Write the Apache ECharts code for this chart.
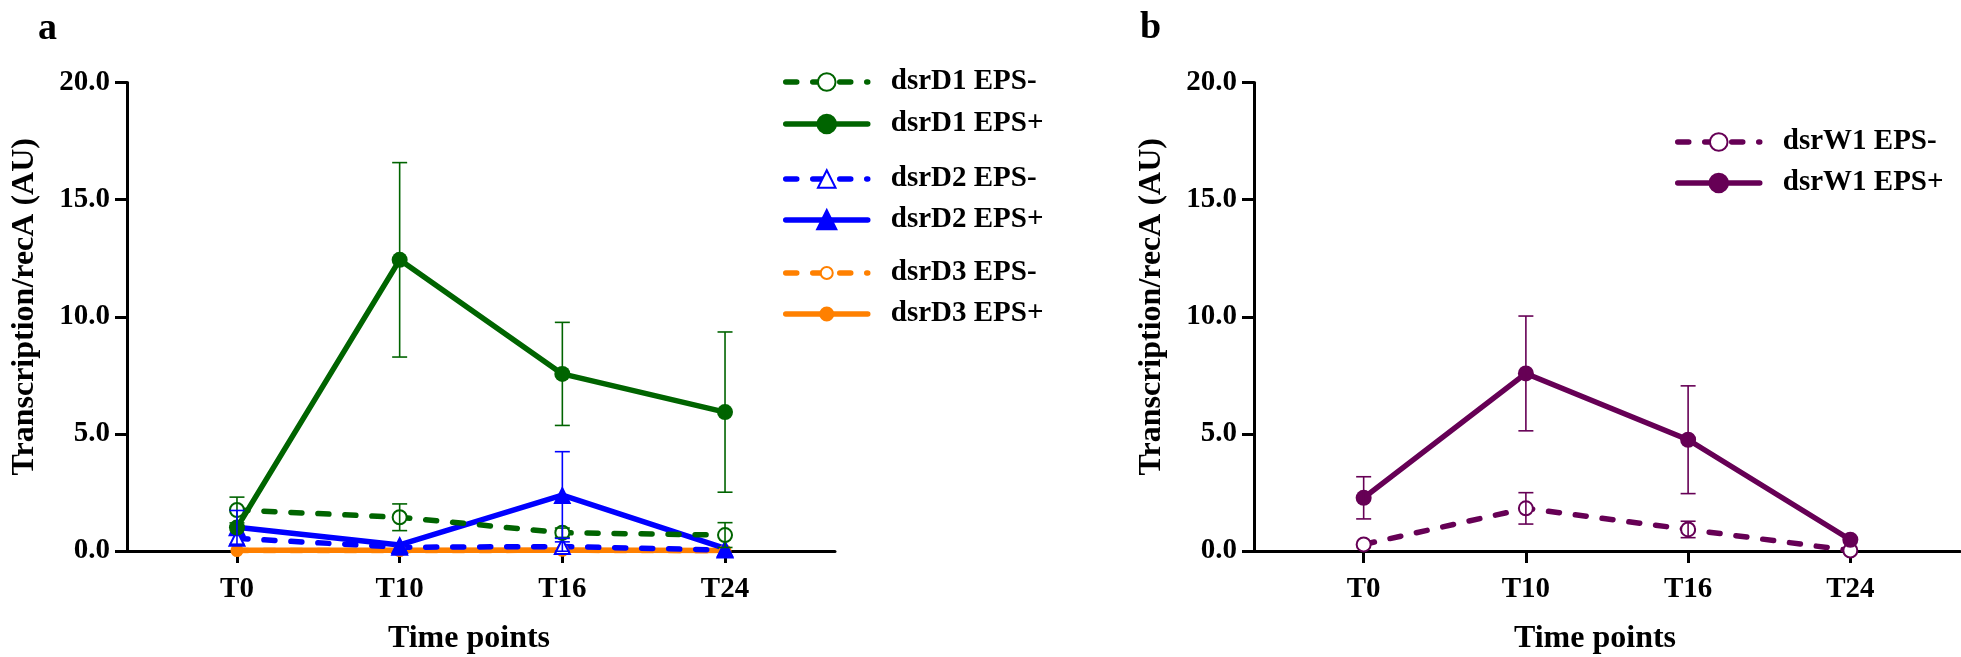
<!DOCTYPE html>
<html><head><meta charset="utf-8">
<script src="https://cdn.jsdelivr.net/npm/echarts@6/dist/echarts.min.js"></script>
<style>html,body{margin:0;padding:0;background:#fff}#c{width:1961px;height:657px}</style>
</head><body><div id="c"></div>
<script>
// ---- data ----
const categories = ['T0', 'T10', 'T16', 'T24'];
const yTicks = [0, 5, 10, 15, 20];

const dsrD1_minus     = [1.75, 1.44, 0.78, 0.68];
const dsrD1_minus_err = [0.55, 0.57, 0.20, 0.53];
const dsrD1_plus      = [1.00, 12.43, 7.56, 5.93];
const dsrD1_plus_err  = [0, 4.15, 2.20, 3.42];
const dsrD2_minus     = [0.54, 0.16, 0.19, 0.04];
const dsrD2_minus_err = [0, 0, 0.20, 0];
const dsrD2_plus      = [1.01, 0.26, 2.39, 0.11];
const dsrD2_plus_err  = [0.72, 0, 1.85, 0];
const dsrD3_minus     = [0.02, 0.02, 0.03, 0.01];
const dsrD3_plus      = [0.03, 0.03, 0.04, 0.02];
const dsrW1_minus     = [0.28, 1.82, 0.92, 0.02];
const dsrW1_minus_err = [0, 0.67, 0.35, 0];
const dsrW1_plus      = [2.27, 7.58, 4.75, 0.48];
const dsrW1_plus_err  = [0.90, 2.45, 2.30, 0];

const GREEN = '#006400', BLUE = '#0000FF', ORANGE = '#FF8000', PURPLE = '#660055';
const FONT = '"Liberation Serif", "Times New Roman", "DejaVu Serif", serif';

function lineSeries(name, vals, color, dashed, symbol, size, gi) {
  const empty = symbol.indexOf('empty') === 0;
  return {
    name, type: 'line', xAxisIndex: gi, yAxisIndex: gi,
    data: vals.map((v, i) => [i, v]),
    symbol, symbolSize: size, showAllSymbol: true, z: 3,
    lineStyle: { color, width: 5.5, type: dashed ? [11, 16] : 'solid', cap: 'round' },
    itemStyle: { color, borderColor: color, borderWidth: empty ? 3.5 : 0 }
  };
}
function errSeries(vals, errs, color, gi) {
  const data = vals.map((v, i) => [i, v, errs[i]]).filter(d => d[2] > 0);
  return {
    type: 'custom', xAxisIndex: gi, yAxisIndex: gi, z: 4, silent: true,
    encode: { x: 0, y: 1 },
    renderItem(params, api) {
      const x = api.value(0), y = api.value(1), e = api.value(2);
      const hi = api.coord([x, y + e]), lo = api.coord([x, y - e]);
      const w = 7.5, st = { stroke: color, lineWidth: 1.6 };
      return { type: 'group', children: [
        { type: 'line', shape: { x1: hi[0], y1: hi[1], x2: lo[0], y2: lo[1] }, style: st },
        { type: 'line', shape: { x1: hi[0] - w, y1: hi[1], x2: hi[0] + w, y2: hi[1] }, style: st },
        { type: 'line', shape: { x1: lo[0] - w, y1: lo[1], x2: lo[0] + w, y2: lo[1] }, style: st }
      ] };
    },
    data
  };
}

const txt = (size) => ({ fontFamily: FONT, fontWeight: 'bold', fontSize: size, color: '#000' });

function xAxis(gi) {
  return {
    type: 'value', gridIndex: gi, min: -0.676, max: 3.676,
    axisLine: { show: true, onZero: false, lineStyle: { color: '#000', width: 3 } },
    axisTick: { show: true, customValues: [0, 1, 2, 3], length: 12, lineStyle: { color: '#000', width: 3 } },
    axisLabel: Object.assign({ customValues: [0, 1, 2, 3], formatter: v => categories[Math.round(v)], margin: 24 }, txt(29)),
    splitLine: { show: false },
    name: 'Time points', nameLocation: 'middle', nameGap: 72,
    nameTextStyle: Object.assign({ padding: [0, 24, 0, 0] }, txt(32))
  };
}
function yAxis(gi) {
  return {
    type: 'value', gridIndex: gi, min: yTicks[0], max: yTicks[yTicks.length - 1], interval: 5,
    axisLine: { show: true, onZero: false, lineStyle: { color: '#000', width: 3 } },
    axisTick: { show: true, length: 12, lineStyle: { color: '#000', width: 3 } },
    axisLabel: Object.assign({ formatter: v => v.toFixed(1), margin: 17 }, txt(29)),
    splitLine: { show: false },
    name: 'Transcription/recA (AU)', nameLocation: 'middle', nameGap: 86,
    nameTextStyle: Object.assign({ padding: [0, 0, 0, 20] }, txt(32))
  };
}
function legend(names, left, top, ih, gap) {
  return {
    data: names, orient: 'vertical', left, top, padding: 0,
    itemWidth: 82, itemHeight: ih, itemGap: gap,
    lineStyle: { width: 5.5 },
    itemStyle: { borderWidth: 3 },
    textStyle: Object.assign({ lineHeight: 30, padding: [0, 0, 0, 18] }, txt(29)),
    selectedMode: false
  };
}

const chart = echarts.init(document.getElementById('c'), null, { renderer: 'canvas' });
chart.setOption({
  backgroundColor: '#fff',
  animation: false,
  textStyle: { fontFamily: FONT },
  graphic: [
    { type: 'text', left: 38, top: 10, style: { text: 'a', fontFamily: FONT, fontWeight: 'bold', fontSize: 38, fill: '#000' } },
    { type: 'text', left: 1140, top: 9, style: { text: 'b', fontFamily: FONT, fontWeight: 'bold', fontSize: 38, fill: '#000' } }
  ],
  grid: [
    { left: 127, top: 82.5, width: 708, height: 468.5, containLabel: false, outerBoundsMode: 'none' },
    { left: 1254, top: 82.5, width: 706, height: 468.5, containLabel: false, outerBoundsMode: 'none' }
  ],
  xAxis: [xAxis(0), xAxis(1)],
  yAxis: [yAxis(0), yAxis(1)],
  legend: [
    legend(['dsrD1 EPS-', 'dsrD1 EPS+'], 783, 67, 22, 12),
    legend(['dsrD2 EPS-', 'dsrD2 EPS+'], 783, 164, 22, 11),
    legend(['dsrD3 EPS-', 'dsrD3 EPS+'], 783, 258, 15, 11),
    legend(['dsrW1 EPS-', 'dsrW1 EPS+'], 1675, 127, 22, 11)
  ],
  series: [
    lineSeries('dsrD3 EPS-', dsrD3_minus, ORANGE, true, 'emptyCircle', 11, 0),
    lineSeries('dsrD3 EPS+', dsrD3_plus, ORANGE, false, 'circle', 12, 0),
    lineSeries('dsrD2 EPS-', dsrD2_minus, BLUE, true, 'emptyTriangle', 15, 0),
    lineSeries('dsrD2 EPS+', dsrD2_plus, BLUE, false, 'triangle', 18, 0),
    lineSeries('dsrD1 EPS-', dsrD1_minus, GREEN, true, 'emptyCircle', 14, 0),
    lineSeries('dsrD1 EPS+', dsrD1_plus, GREEN, false, 'circle', 16, 0),
    errSeries(dsrD1_minus, dsrD1_minus_err, GREEN, 0),
    errSeries(dsrD1_plus, dsrD1_plus_err, GREEN, 0),
    errSeries(dsrD2_minus, dsrD2_minus_err, BLUE, 0),
    errSeries(dsrD2_plus, dsrD2_plus_err, BLUE, 0),
    lineSeries('dsrW1 EPS-', dsrW1_minus, PURPLE, true, 'emptyCircle', 14, 1),
    lineSeries('dsrW1 EPS+', dsrW1_plus, PURPLE, false, 'circle', 16, 1),
    errSeries(dsrW1_minus, dsrW1_minus_err, PURPLE, 1),
    errSeries(dsrW1_plus, dsrW1_plus_err, PURPLE, 1)
  ]
});
</script></body></html>
